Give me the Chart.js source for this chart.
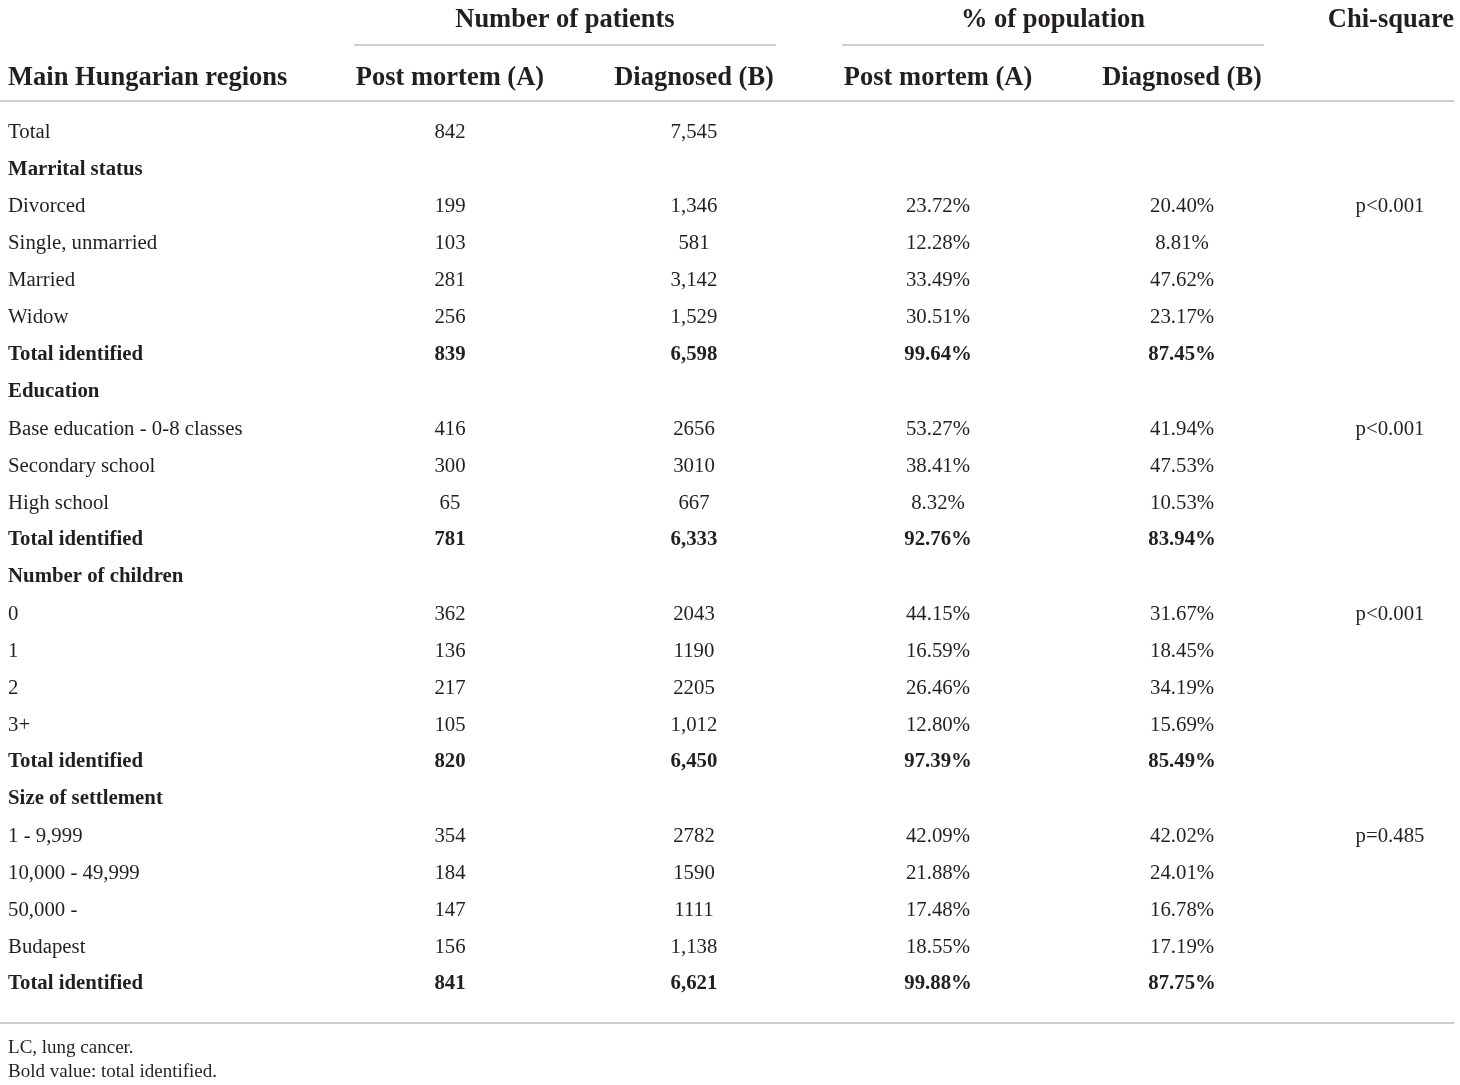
<!DOCTYPE html>
<html>
<head>
<meta charset="utf-8">
<title>Main Hungarian regions</title>
<script src="https://cdn.jsdelivr.net/npm/chart.js@4.4.1/dist/chart.umd.min.js"></script>
<style>
html,body{margin:0;padding:0;background:#fff;}
#wrap{width:1460px;height:1085px;position:relative;}
</style>
</head>
<body>
<div id="wrap"><canvas id="tableChart"></canvas></div>
<script>
// ===============================
// Table data
// ===============================

const rowLabels=[
'Total',
'Marrital status',
'Divorced',
'Single, unmarried',
'Married',
'Widow',
'Total identified',
'Education',
'Base education - 0-8 classes',
'Secondary school',
'High school',
'Total identified',
'Number of children',
'0',
'1',
'2',
'3+',
'Total identified',
'Size of settlement',
'1 - 9,999',
'10,000 - 49,999',
'50,000 -',
'Budapest',
'Total identified'
];

// g = group heading, t = bold total row, n = normal row
const rowKinds=['n','g','n','n','n','n','t','g','n','n','n','t','g','n','n','n','n','t','g','n','n','n','n','t'];

const postMortemCount=['842','','199','103','281','256','839','','416','300','65','781','','362','136','217','105','820','','354','184','147','156','841'];

const diagnosedCount=['7,545','','1,346','581','3,142','1,529','6,598','','2656','3010','667','6,333','','2043','1190','2205','1,012','6,450','','2782','1590','1111','1,138','6,621'];

const postMortemPct=[null,null,23.72,12.28,33.49,30.51,99.64,null,53.27,38.41,8.32,92.76,null,44.15,16.59,26.46,12.80,97.39,null,42.09,21.88,17.48,18.55,99.88];

const diagnosedPct=[null,null,20.40,8.81,47.62,23.17,87.45,null,41.94,47.53,10.53,83.94,null,31.67,18.45,34.19,15.69,85.49,null,42.02,24.01,16.78,17.19,87.75];

const chiSquare=['','','p<0.001','','','','','','p<0.001','','','','','p<0.001','','','','','','p=0.485','','','',''];

const columnHeaders=['Post mortem (A)','Diagnosed (B)','Post mortem (A)','Diagnosed (B)'];
const groupHeaders=['Number of patients','% of population','Chi-square'];
const firstHeader='Main Hungarian regions';
const footnotes=['LC, lung cancer.','Bold value: total identified.'];


// ===============================
// Layout (in scale units: x = column, y = row)
// ===============================

const colX={label:-1.811,a:0,b:1,pa:2,pb:3,chi:3.852};
const rowY={group:-3.05,groupRule:-2.32,head:-1.49,headRule:-0.81,bottomRule:24.11,note1:24.73,note2:25.38};

const fontFace='"Liberation Serif","Times New Roman",serif';
const headFont='bold 26.5px '+fontFace;
const bodySize='20.8px ';
const noteFont='19px '+fontFace;
const textDy=2;
const textColor='#231f20';
const ruleColor='#cfcfcf';


// ===============================
// Table drawing plugin
// ===============================

const tablePlugin={
id:'tablePlugin',
afterDraw(chart){

const ctx=chart.ctx;
const xs=chart.scales.x;
const ys=chart.scales.y;
const X=v=>xs.getPixelForValue(v);
const Y=v=>ys.getPixelForValue(v)+textDy;

ctx.save();
ctx.textBaseline='middle';
ctx.fillStyle=textColor;

// rules
ctx.strokeStyle=ruleColor;
ctx.lineWidth=2;
function rule(x1,x2,y){
const py=Math.round(ys.getPixelForValue(y));
ctx.beginPath();
ctx.moveTo(x1,py);
ctx.lineTo(x2,py);
ctx.stroke();
}
rule(X(-0.393),X(1.336),rowY.groupRule);
rule(X(1.607),X(3.336),rowY.groupRule);
rule(xs.left,X(4.115),rowY.headRule);
rule(xs.left,X(4.115),rowY.bottomRule);

// header
ctx.font=headFont;
ctx.textAlign='center';
ctx.fillText(groupHeaders[0],X(0.471),Y(rowY.group));
ctx.fillText(groupHeaders[1],X(2.471),Y(rowY.group));
ctx.fillText(groupHeaders[2],X(3.856),Y(rowY.group));

ctx.fillText(columnHeaders[0],X(colX.a),Y(rowY.head));
ctx.fillText(columnHeaders[1],X(colX.b),Y(rowY.head));
ctx.fillText(columnHeaders[2],X(colX.pa),Y(rowY.head));
ctx.fillText(columnHeaders[3],X(colX.pb),Y(rowY.head));
ctx.textAlign='left';
ctx.fillText(firstHeader,X(colX.label),Y(rowY.head));

// body
rowLabels.forEach((label,i)=>{
const bold=rowKinds[i]!=='n';
ctx.font=(bold?'bold ':'')+bodySize+fontFace;
const y=Y(i);
ctx.textAlign='left';
ctx.fillText(label,X(colX.label),y);
ctx.textAlign='center';
ctx.fillText(postMortemCount[i],X(colX.a),y);
ctx.fillText(diagnosedCount[i],X(colX.b),y);
if(postMortemPct[i]!==null) ctx.fillText(postMortemPct[i].toFixed(2)+'%',X(colX.pa),y);
if(diagnosedPct[i]!==null) ctx.fillText(diagnosedPct[i].toFixed(2)+'%',X(colX.pb),y);
ctx.fillText(chiSquare[i],X(colX.chi),y);
});

// notes
ctx.font=noteFont;
ctx.textAlign='left';
ctx.fillText(footnotes[0],X(colX.label),Y(rowY.note1));
ctx.fillText(footnotes[1],X(colX.label),Y(rowY.note2));

ctx.restore();
}
};


// ===============================
// Chart
// ===============================

const tableCtx=document.getElementById('tableChart');

new Chart(tableCtx,{
type:'scatter',
data:{datasets:[]},
options:{
responsive:true,
maintainAspectRatio:false,
animation:false,
layout:{padding:0},
plugins:{legend:{display:false},tooltip:{enabled:false}},
scales:{
x:{type:'linear',display:false,min:-1.844,max:4.139},
y:{type:'linear',display:false,reverse:true,min:-3.54,max:25.78}
}
},
plugins:[tablePlugin]
});
</script>
</body>
</html>
